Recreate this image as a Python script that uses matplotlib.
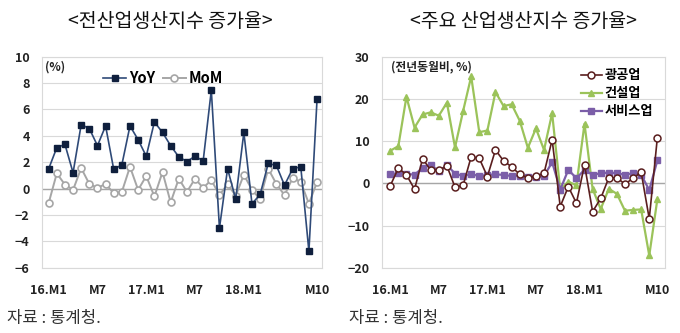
import numpy as np
import matplotlib.pyplot as plt

plt.rcParams['font.family'] = ['Noto Sans CJK KR', 'DejaVu Sans']

# 2016.01 ~ 2018.10 monthly growth rates (%)
tick_pos = [0, 6, 12, 18, 24, 33]
tick_labels = ['16.M1', 'M7', '17.M1', 'M7', '18.M1', 'M10']

yoy = [1.5, 3.1, 3.35, 1.2, 4.85, 4.55, 3.25, 4.75, 1.45, 1.8,
       4.75, 3.7, 2.45, 5.05, 4.25, 3.25, 2.4, 2.05, 2.45, 2.1,
       7.45, -3.0, 1.5, -0.8, 4.25, -1.15, -0.45, 1.9, 1.75, 0.25,
       1.5, 1.65, -4.75, 6.75]
mom = [-1.1, 1.15, 0.3, -0.1, 1.55, 0.35, 0.05, 0.35, -0.35, -0.25,
       1.65, -0.1, 0.95, -0.6, 1.25, -1.05, 0.75, -0.25, 0.75, 0.05,
       0.65, -0.5, 0.35, -0.55, 1.05, -0.1, -0.8, 1.5, 0.35, -0.5,
       0.8, 0.5, -1.15, 0.5]

mining = [-0.6, 3.6, 2.0, -1.4, 5.8, 3.1, 3.1, 4.1, -0.9, -0.5,
          6.3, 5.9, 1.6, 7.9, 5.3, 3.9, 2.1, 1.3, 1.7, 2.4,
          10.3, -5.5, -0.8, -4.7, 4.4, -6.7, -3.6, 1.3, 1.3, -0.2,
          1.2, 2.6, -8.4, 10.8]
construction = [7.7, 8.8, 20.5, 13.2, 16.3, 16.8, 16.0, 19.1, 8.5, 17.1,
                25.3, 12.1, 12.5, 21.6, 18.3, 18.7, 14.8, 8.4, 13.0, 7.9,
                16.6, -1.6, 0.4, -0.5, 14.1, -1.3, -6.1, -1.3, -2.5, -6.5,
                -6.3, -6.2, -17.1, -3.8]
service = [2.1, 2.4, 2.3, 2.0, 3.7, 4.4, 2.8, 4.3, 2.3, 1.7,
           2.2, 1.7, 2.0, 2.1, 2.0, 1.7, 1.7, 1.6, 1.6, 1.7,
           5.0, -1.5, 3.2, 1.2, 3.2, 2.0, 2.4, 2.5, 2.4, 2.0,
           2.4, 2.0, -1.6, 5.4]

x = np.arange(len(yoy))
grid_c = '#D9D9D9'
text_c = '#222222'

fig = plt.figure(figsize=(6.8, 3.33), dpi=100)


def style_axes(ax, ylim, step):
    ax.set_ylim(*ylim)
    ax.set_yticks(np.arange(ylim[0], ylim[1] + 0.1, step))
    ax.set_xticks(tick_pos)
    ax.set_xticklabels(tick_labels)
    ax.grid(axis='y', color=grid_c, linewidth=0.8)
    ax.set_axisbelow(True)
    ax.axhline(0, color='#A6A6A6', linewidth=1.0, zorder=1)
    for s in ax.spines.values():
        s.set_color(grid_c)
        s.set_linewidth(0.8)
    ax.tick_params(length=0, labelsize=9, colors=text_c)
    ax.tick_params(axis='x', pad=12)
    ax.tick_params(axis='y', pad=9)
    for lab in ax.get_xticklabels() + ax.get_yticklabels():
        lab.set_fontweight('bold')


# left: all-industry production index
ax1 = fig.add_axes([0.062, 0.196, 0.412, 0.634])
ax1.set_xlim(-0.8, 33.65)
style_axes(ax1, (-6, 10), 2)
ax1.plot(x, mom, color='#A6A6A6', linewidth=1.4, marker='o', markersize=5,
         markerfacecolor='white', markeredgecolor='#A6A6A6', markeredgewidth=1.2,
         label='MoM', zorder=3)
ax1.plot(x, yoy, color='#2F4A78', linewidth=1.2, marker='s', markersize=4,
         markerfacecolor='#0F1F3D', markeredgecolor='#0F1F3D', label='YoY', zorder=4)
h, l = ax1.get_legend_handles_labels()
ax1.legend(h[::-1], l[::-1], loc='upper left', bbox_to_anchor=(0.17, 1.0), ncol=2,
           frameon=False, handlelength=1.6, columnspacing=0.5, handletextpad=0.2,
           prop={'weight': 'bold', 'size': 10.5})
ax1.text(0.01, 0.95, '(%)', transform=ax1.transAxes, fontsize=8.5, color=text_c,
         fontweight='bold', va='center')

# right: production index by major industry
ax2 = fig.add_axes([0.562, 0.196, 0.416, 0.634])
ax2.set_xlim(-1.0, 33.95)
style_axes(ax2, (-20, 30), 10)
ax2.plot(x, construction, color='#9BC35A', linewidth=1.6, marker='^', markersize=4.5,
         markerfacecolor='#9BC35A', markeredgecolor='#9BC35A', label='건설업', zorder=3)
ax2.plot(x, service, color='#7B5EA8', linewidth=1.6, marker='s', markersize=3.8,
         markerfacecolor='#7B5EA8', markeredgecolor='#7B5EA8', label='서비스업', zorder=4)
ax2.plot(x, mining, color='#5A1E1E', linewidth=1.2, marker='o', markersize=5,
         markerfacecolor='white', markeredgecolor='#5A1E1E', markeredgewidth=1.1,
         label='광공업', zorder=5)
h, l = ax2.get_legend_handles_labels()
ax2.legend([h[2], h[0], h[1]], [l[2], l[0], l[1]], loc='upper right',
           bbox_to_anchor=(1.0, 1.0), frameon=False, handlelength=1.6,
           handletextpad=0.2, labelspacing=0.3, prop={'size': 9.5, 'weight': 'bold'})
ax2.text(0.03, 0.95, '(전년동월비, %)', transform=ax2.transAxes, fontsize=8.5,
         color=text_c, fontweight='bold', va='center')

fig.text(0.251, 0.935, '<전산업생산지수 증가율>', ha='center', va='center',
         fontsize=14, color='#111111')
fig.text(0.77, 0.935, '<주요 산업생산지수 증가율>', ha='center', va='center',
         fontsize=14, color='#111111')
fig.text(0.01, 0.045, '자료 : 통계청.', ha='left', va='center', fontsize=12, color='#333333')
fig.text(0.513, 0.045, '자료 : 통계청.', ha='left', va='center', fontsize=12, color='#333333')

fig.savefig('out.png', dpi=100)
